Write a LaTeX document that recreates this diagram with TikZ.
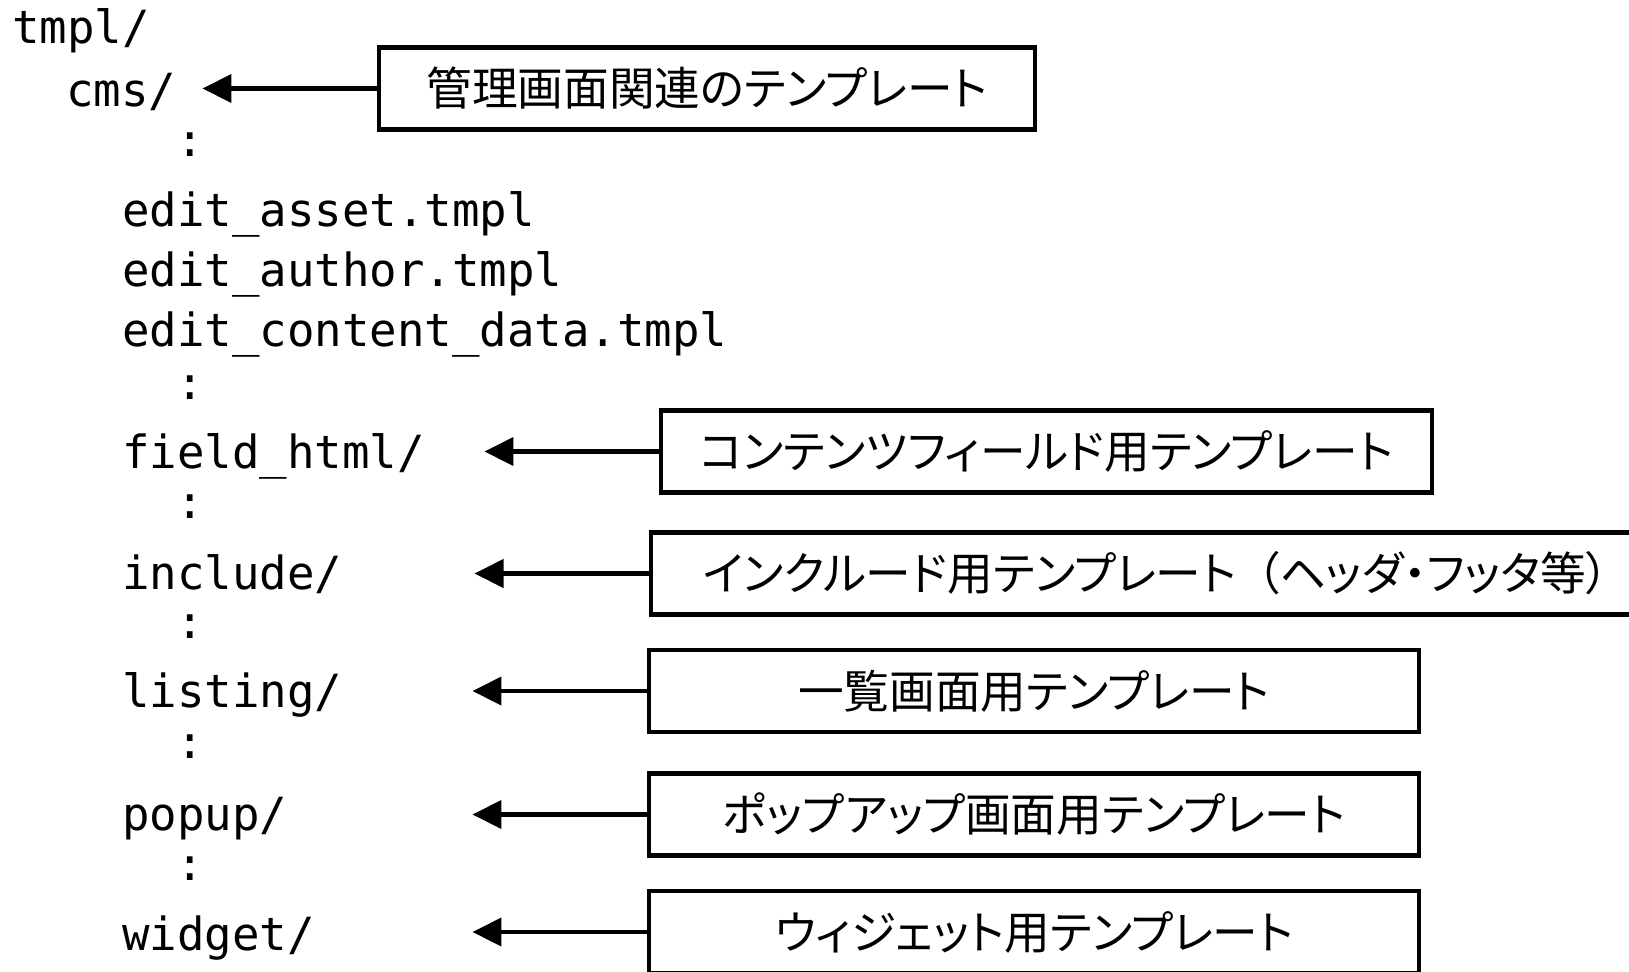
\documentclass[tikz,border=0pt]{standalone}
\usepackage{fontspec}
\setmonofont{DejaVu Sans Mono}
\newfontfamily\jpfont[RawFeature=+palt]{Noto Sans CJK JP}
\usepackage{tikz}
\usetikzlibrary{arrows.meta}
\tikzset{
  dirname/.style={anchor=base west,inner sep=0pt,font=\fontsize{26}{30}\selectfont\ttfamily},
  dots/.style={inner sep=0pt,font=\fontsize{26}{30}\selectfont\ttfamily},
  notebox/.style={draw,line width=2.3pt,minimum height=1.64cm,inner xsep=0.3cm,font=\fontsize{26}{30}\selectfont\jpfont},
  notearrow/.style={line width=2.3pt,-{Triangle[length=0.58cm,width=0.56cm]}}
}
\newcommand{\drawnote}[4]{
  \node[notebox,minimum width=#3] (#1) at #2 {#4};
  \draw[notearrow] (#1.west) -- ++(-3.49,0);
}

\begin{document}
\begin{tikzpicture}
  \useasboundingbox (0,0) rectangle (32.58,-19.42);
  \node[dirname] (tmpl) at (0.24,-0.87) {tmpl/};
  \node[dirname] (cms) at (1.32,-2.13) {cms/};
  \node[dirname] (asset) at (2.44,-4.534) {edit\_asset.tmpl};
  \node[dirname] (author) at (2.44,-5.734) {edit\_author.tmpl};
  \node[dirname] (content) at (2.44,-6.934) {edit\_content\_data.tmpl};
  \node[dirname] (field) at (2.44,-9.372) {field\_html/};
  \node[dirname] (include) at (2.44,-11.78) {include/};
  \node[dirname] (listing) at (2.44,-14.15) {listing/};
  \node[dirname] (popup) at (2.44,-16.6) {popup/};
  \node[dirname] (widget) at (2.44,-19.0) {widget/};
  \foreach \y [count=\i] in {-2.9,-7.75,-10.14,-12.53,-14.94,-17.37}
    \node[dots] (dots\i) at (3.8,\y) {:};

  \drawnote{notecms}{(14.14,-1.77)}{13.12cm}{管理画面関連のテンプレート}
  \drawnote{notefield}{(20.93,-9.03)}{15.42cm}{コンテンツフィールド用テンプレート}
  %% wider than the page, cut at the right
  \node[notebox,anchor=west,text width=19cm,inner xsep=1.04cm,align=left] (noteinc) at (12.98,-11.47) {インクルード用テンプレート\hspace{0.45em}（ヘッダ・フッタ等）};
  \draw[notearrow] (noteinc.west) -- ++(-3.49,0);
  \drawnote{notelist}{(20.68,-13.82)}{15.4cm}{一覧画面用テンプレート}
  \drawnote{notepopup}{(20.68,-16.29)}{15.4cm}{ポップアップ画面用テンプレート}
  \drawnote{notewidget}{(20.68,-18.64)}{15.4cm}{ウィジェット用テンプレート}
\end{tikzpicture}
\end{document}
